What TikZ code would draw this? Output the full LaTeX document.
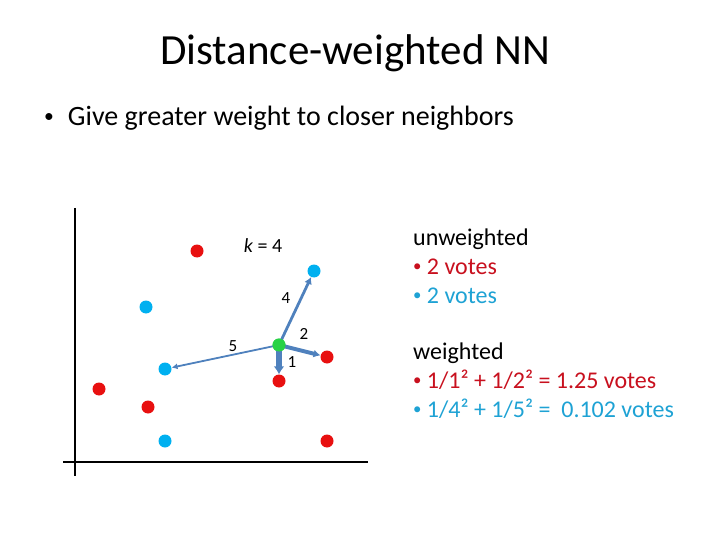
\documentclass[tikz,border=0pt]{standalone}
\usepackage{fontspec}
\setmainfont{Carlito}
\usetikzlibrary{arrows.meta}
\definecolor{dotred}{RGB}{232,16,16}
\definecolor{dotblue}{RGB}{0,176,240}
\definecolor{dotgreen}{RGB}{40,210,70}
\definecolor{arrowblue}{RGB}{79,129,189}
\definecolor{txtred}{RGB}{200,16,30}
\definecolor{txtblue}{RGB}{30,162,212}
\newcommand{\smbul}{\raisebox{0.12em}{\scalebox{0.7}{\textbullet}}}
\tikzset{
	dot/.style = {circle, inner sep=0pt, minimum size=13pt},
	reddot/.style = {dot, fill=dotred},
	bluedot/.style = {dot, fill=dotblue},
	greendot/.style = {dot, fill=dotgreen},
	nn/.style = {arrowblue, -{Latex[length=7pt,width=8pt]}, shorten <=-2pt},
	num/.style = {font=\fontsize{17}{19}\selectfont},
	rtext/.style = {anchor=base west, inner sep=0pt, font=\fontsize{24}{28}\selectfont}
}
\begin{document}
\begin{tikzpicture}[x=1pt, y=-1pt]
	\useasboundingbox (0,0) rectangle (720,540);
	% title and bullet
	\node[anchor=base, font=\fontsize{43}{48}\selectfont] (title) at (355,65) {Distance-weighted NN};
	\node[anchor=base west, inner sep=0pt, font=\fontsize{28}{32}\selectfont] (intro) at (44,126) {\smbul\hspace{14pt}Give greater weight to closer neighbors};
	% axes
	\draw[line width=2pt] (75,208)--(75,476);
	\draw[line width=2pt] (63,462)--(368,462);
	% points
	\node[reddot] (r1) at (197,251) {};
	\node[bluedot] (b1) at (314,271) {};
	\node[bluedot] (b2) at (146,307) {};
	\node[reddot] (r2) at (327,357) {};
	\node[bluedot] (b3) at (165,369) {};
	\node[reddot] (r3) at (279,381) {};
	\node[reddot] (r4) at (99,389) {};
	\node[reddot] (r5) at (148,407) {};
	\node[bluedot] (b4) at (165,441) {};
	\node[reddot] (r6) at (327,441) {};
	\node[greendot] (q) at (279,345) {};
	% neighbour arrows
	\draw[nn, line width=2.8pt] (q.center)--(b1);
	\draw[nn, line width=1.8pt, -{Latex[length=6pt,width=6pt]}] (q.center)--(b3);
	\draw[nn, line width=4pt] (q.center)--(r2);
	\draw[nn, line width=6pt, -{Latex[length=8pt,width=11pt]}] (q.center)--(r3);
	\node[greendot] (q2) at (q) {};
	% labels
	\node[font=\fontsize{20}{22}\selectfont] (k) at (263,246) {\textit{k} = 4};
	\node[num] (l4) at (286,298) {4};
	\node[num] (l2) at (304,334) {2};
	\node[num] (l5) at (233,346) {5};
	\node[num] (l1) at (292,362) {1};
	% votes
	\node[rtext] (unw) at (413,245) {unweighted};
	\node[rtext, txtred] (u1) at (413,274) {\smbul\ 2 votes};
	\node[rtext, txtblue] (u2) at (413,303) {\smbul\ 2 votes};
	\node[rtext] (w) at (413,359) {weighted};
	\node[rtext, txtred] (w1) at (413,388) {\smbul\ 1/1² + 1/2² = 1.25 votes};
	\node[rtext, txtblue] (w2) at (413,417) {\smbul\ 1/4² + 1/5² =\ \ 0.102 votes};
\end{tikzpicture}
\end{document}
